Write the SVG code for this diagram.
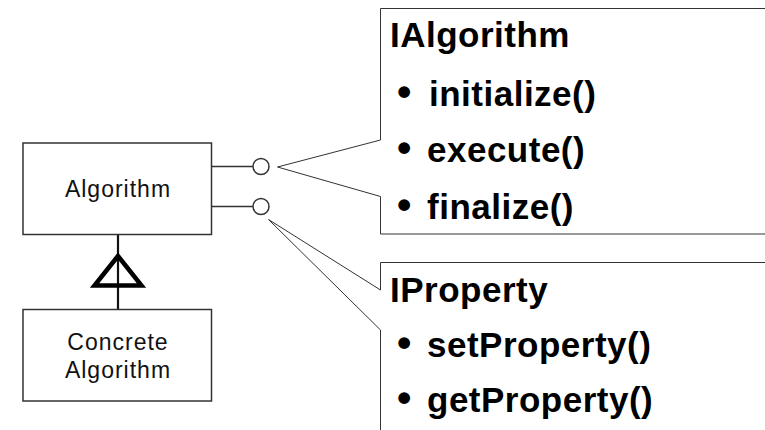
<svg xmlns="http://www.w3.org/2000/svg" width="765" height="430" viewBox="0 0 765 430">
<style>
.box{fill:#fff;stroke:#333;stroke-width:1.5}
.lbl{font-family:"Liberation Sans",Arial,sans-serif;font-size:23px;letter-spacing:1px;fill:#111;text-anchor:middle}
.call{fill:none;stroke:#333;stroke-width:1}
.ct{font-family:"Liberation Sans",Arial,sans-serif;font-weight:bold;font-size:35px;letter-spacing:0.5px;fill:#000}
.bul{font-size:41px}
.ln{stroke:#333;stroke-width:1.5;fill:none}
.lol{fill:#fff;stroke:#333;stroke-width:1.5}
</style>
<rect width="765" height="430" fill="#fff"/>
<g id="connectors">
<line class="ln" x1="212" y1="166.5" x2="253" y2="166.5"/>
<line class="ln" x1="212" y1="206.5" x2="253" y2="206.5"/>
<circle class="lol" cx="261" cy="166.5" r="8"/>
<circle class="lol" cx="261" cy="206.5" r="8"/>
<line x1="118" y1="234" x2="118" y2="310" stroke="#111" stroke-width="2.2"/>
<polygon points="118,256 94.5,285.5 141.5,285.5" fill="none" stroke="#000" stroke-width="4.5"/>
</g>
<g id="algorithm">
<rect class="box" x="23" y="143" width="188.5" height="91.5"/>
<text class="lbl" x="118" y="197">Algorithm</text>
</g>
<g id="concrete-algorithm">
<rect class="box" x="23" y="309.5" width="188.5" height="91.5"/>
<text class="lbl" x="118" y="350">Concrete</text>
<text class="lbl" x="118" y="378">Algorithm</text>
</g>
<g id="ialgorithm">
<path class="call" d="M766,8.5 H380.5 V140 L277.5,167 L380.5,196.5 V234 H766"/>
<text class="ct" x="390" y="46.5">IAlgorithm</text>
<text class="ct" y="106"><tspan class="bul" x="397">•</tspan><tspan x="429">initialize()</tspan></text>
<text class="ct" y="162"><tspan class="bul" x="397">•</tspan><tspan x="427">execute()</tspan></text>
<text class="ct" y="219"><tspan class="bul" x="397">•</tspan><tspan x="427">finalize()</tspan></text>
</g>
<g id="iproperty">
<path class="call" d="M766,262.5 H380.5 V290 L268.5,219.5 L380.5,330 V431"/>
<text class="ct" x="390" y="302">IProperty</text>
<text class="ct" y="357"><tspan class="bul" x="397">•</tspan><tspan x="427">setProperty()</tspan></text>
<text class="ct" y="412"><tspan class="bul" x="397">•</tspan><tspan x="427">getProperty()</tspan></text>
</g>
</svg>
